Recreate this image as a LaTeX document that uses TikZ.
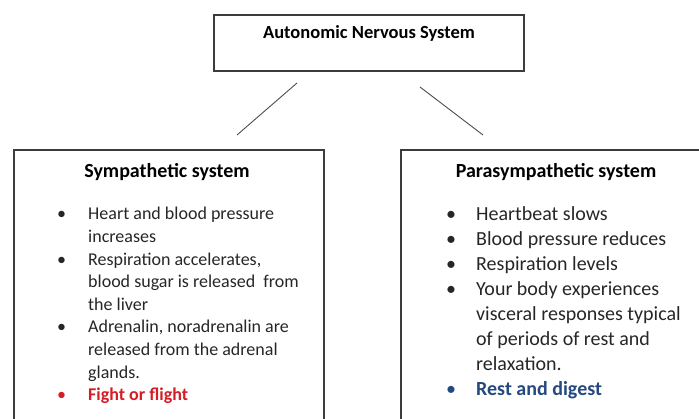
\documentclass[tikz,border=0pt]{standalone}
\usepackage{fontspec}
\setmainfont{Carlito}
\definecolor{fightred}{RGB}{214,28,36}
\definecolor{restblue}{RGB}{36,72,128}
\definecolor{boxline}{RGB}{60,60,60}
\tikzset{
  sysbox/.style={draw=boxline, line width=1.4pt},
  branch/.style={draw=black!70, line width=0.9pt},
  bodytext/.style={anchor=base west, inner sep=0pt, text=black!85},
}
\begin{document}
\begin{tikzpicture}[x=1pt, y=-1pt]
    \useasboundingbox (0,0) rectangle (699,419);
    \clip (0,0) rectangle (699,419);
    % Boxes
    \draw[sysbox] (214,15) rectangle (524,71);
    \draw[sysbox] (14,150) rectangle (324,440);
    \draw[sysbox] (401,150) rectangle (706,440);
    \node[anchor=base, font=\fontsize{18.5}{22}\selectfont\bfseries, inner sep=0pt] (ans) at (369,39) {Autonomic Nervous System};
    \node[anchor=base, font=\fontsize{20}{24}\selectfont\bfseries, inner sep=0pt] (symp) at (167,178) {Sympathetic system};
    \node[anchor=base, font=\fontsize{20}{24}\selectfont\bfseries, inner sep=0pt] (para) at (556,178) {Parasympathetic system};

    % Branches
    \coordinate (ansL) at (297,83);
    \coordinate (sympT) at (237,135);
    \coordinate (ansR) at (420,87);
    \coordinate (paraT) at (483,135);
    \draw[branch] (ansL) -- (sympT);
    \draw[branch] (ansR) -- (paraT);

    % Sympathetic list
    \foreach \y/\b/\t in {220/1/Heart and blood pressure, 242.6/0/increases,
        265.2/1/{Respiration accelerates,}, 287.8/0/blood sugar is released\ \ from,
        310.4/0/the liver, 333/1/{Adrenalin, noradrenalin are},
        355.6/0/released from the adrenal, 378.2/0/glands.} {
        \node[bodytext, font=\fontsize{18}{22}\selectfont] at (88,\y) {\t};
        \ifnum\b=1 \node[bodytext, font=\fontsize{18}{22}\selectfont] at (57,\y) {•};\fi
    }
    \node[bodytext, font=\fontsize{18}{22}\selectfont, text=fightred] (fight) at (57,400.8) {•};
    \node[bodytext, font=\fontsize{18}{22}\selectfont\bfseries, text=fightred] at (88,400.8) {Fight or flight};

    % Parasympathetic list
    \foreach \y/\b/\t in {221/1/Heartbeat slows, 246/1/Blood pressure reduces,
        271/1/Respiration levels, 296/1/Your body experiences,
        321/0/visceral responses typical, 346/0/of periods of rest and,
        371/0/relaxation.} {
        \node[bodytext, font=\fontsize{20}{24}\selectfont] at (476,\y) {\t};
        \ifnum\b=1 \node[bodytext, font=\fontsize{20}{24}\selectfont] at (446,\y) {•};\fi
    }
    \node[bodytext, font=\fontsize{20}{24}\selectfont, text=restblue] (rest) at (446,396) {•};
    \node[bodytext, font=\fontsize{20}{24}\selectfont\bfseries, text=restblue] at (476,396) {Rest and digest};
\end{tikzpicture}
\end{document}
